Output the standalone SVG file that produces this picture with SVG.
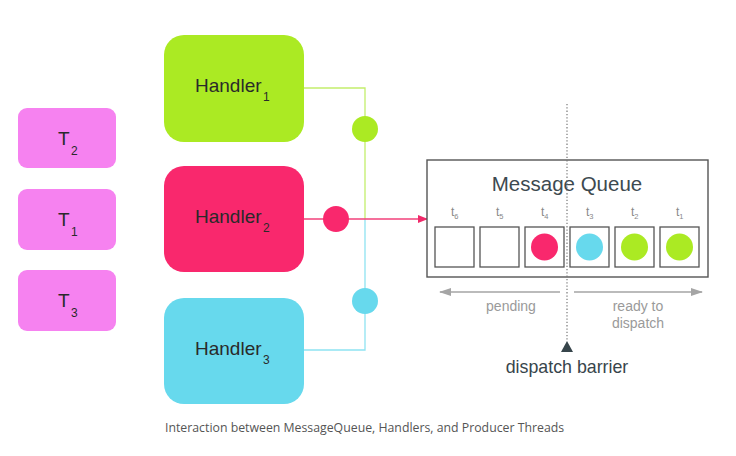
<svg xmlns="http://www.w3.org/2000/svg" width="736" height="456" viewBox="0 0 736 456">
<defs>
<style>
.t{font-family:"Liberation Sans",Arial,sans-serif;fill:#2a2a2a}
.big{font-size:19px}
.sub{font-size:12px}
.cell{fill:#fff;stroke:#555;stroke-width:1.3}
.tl{font-family:"Liberation Sans",Arial,sans-serif;fill:#888;font-size:12px}
.ts{font-size:7.5px}
.gl{font-family:"Liberation Sans",Arial,sans-serif;fill:#9a9a9a;font-size:14px;text-anchor:middle}
</style>
<marker id="ar" markerWidth="10" markerHeight="8" refX="9" refY="4" orient="auto" markerUnits="userSpaceOnUse">
<path d="M0,0 L10,4 L0,8 Z" fill="#f02a6a"/>
</marker>
<marker id="ag" markerWidth="12" markerHeight="8" refX="11" refY="4" orient="auto" markerUnits="userSpaceOnUse">
<path d="M0,0 L12,4 L0,8 Z" fill="#a5a5a5"/>
</marker>
</defs>
<rect width="736" height="456" fill="#fff"/>

<g id="connectors">
<polyline points="304,88 365,88 365,219" fill="none" stroke="#c3ee6c" stroke-width="1.3"/>
<polyline points="365,219 365,350 304,350" fill="none" stroke="#8fe3f2" stroke-width="1.3"/>
<line x1="304" y1="219" x2="427" y2="219" stroke="#f2407a" stroke-width="1.3" marker-end="url(#ar)"/>
<circle cx="365" cy="129" r="13" fill="#abea23"/>
<circle cx="336" cy="219" r="13" fill="#f9286d"/>
<circle cx="365" cy="301" r="13" fill="#67d9ed"/>
</g>

<g id="T2"><rect x="18" y="108" width="98" height="60" rx="9" fill="#f682f0"/>
<text class="t big" x="58" y="145">T</text><text class="t sub" x="71" y="155">2</text></g>
<g id="T1"><rect x="18" y="189" width="98" height="61" rx="9" fill="#f682f0"/>
<text class="t big" x="58" y="226">T</text><text class="t sub" x="71" y="236">1</text></g>
<g id="T3"><rect x="18" y="270" width="98" height="61" rx="9" fill="#f682f0"/>
<text class="t big" x="58" y="307">T</text><text class="t sub" x="71" y="317">3</text></g>

<g id="Handler1"><rect x="164" y="35" width="140" height="107" rx="20" fill="#abea23"/>
<text class="t big" x="195" y="92">Handler</text><text class="t sub" x="263" y="101">1</text></g>
<g id="Handler2"><rect x="164" y="166" width="140" height="106" rx="20" fill="#f9286d"/>
<text class="t big" x="195" y="223">Handler</text><text class="t sub" x="263" y="232">2</text></g>
<g id="Handler3"><rect x="164" y="298" width="140" height="106" rx="20" fill="#67d9ed"/>
<text class="t big" x="195" y="355">Handler</text><text class="t sub" x="263" y="364">3</text></g>

<g id="MessageQueue">
<rect x="427" y="160" width="281" height="117" fill="#fff" stroke="#555" stroke-width="1.4"/>
<text x="567" y="191" font-family="'Liberation Sans',Arial,sans-serif" font-size="20.5" fill="#3d4a50" text-anchor="middle">Message Queue</text>
<rect class="cell" x="435" y="227" width="39" height="40"/>
<rect class="cell" x="480" y="227" width="39" height="40"/>
<rect class="cell" x="525" y="227" width="39" height="40"/>
<rect class="cell" x="570" y="227" width="39" height="40"/>
<rect class="cell" x="615" y="227" width="39" height="40"/>
<rect class="cell" x="660" y="227" width="39" height="40"/>
<circle cx="544.5" cy="247" r="13.5" fill="#f9286d"/>
<circle cx="589.5" cy="247" r="13.5" fill="#67d9ed"/>
<circle cx="634.5" cy="247" r="13.5" fill="#abea23"/>
<circle cx="679.5" cy="247" r="13.5" fill="#abea23"/>
<text class="tl" x="451" y="216">t<tspan class="ts" dy="3">6</tspan></text>
<text class="tl" x="496" y="216">t<tspan class="ts" dy="3">5</tspan></text>
<text class="tl" x="541" y="216">t<tspan class="ts" dy="3">4</tspan></text>
<text class="tl" x="586" y="216">t<tspan class="ts" dy="3">3</tspan></text>
<text class="tl" x="631" y="216">t<tspan class="ts" dy="3">2</tspan></text>
<text class="tl" x="676" y="216">t<tspan class="ts" dy="3">1</tspan></text>
</g>

<g id="barrier">
<line x1="567" y1="104" x2="567" y2="341" stroke="#777" stroke-width="1.2" stroke-dasharray="1.3 2"/>
<path d="M561,352 L567,341 L573,352 Z" fill="#37454b"/>
<text x="567" y="373" font-family="'Liberation Sans',Arial,sans-serif" font-size="17.8" fill="#37454b" text-anchor="middle">dispatch barrier</text>
</g>

<g id="legend">
<line x1="560" y1="292" x2="440" y2="292" stroke="#a5a5a5" stroke-width="1.3" marker-end="url(#ag)"/>
<line x1="574" y1="292" x2="702" y2="292" stroke="#a5a5a5" stroke-width="1.3" marker-end="url(#ag)"/>
<text class="gl" x="511" y="311">pending</text>
<text class="gl" x="638" y="311">ready to</text>
<text class="gl" x="638" y="328">dispatch</text>
</g>

<text x="165" y="432" font-family="'Open Sans','Noto Sans',sans-serif" font-size="12.3" fill="#555">Interaction between MessageQueue, Handlers, and Producer Threads</text>
</svg>
